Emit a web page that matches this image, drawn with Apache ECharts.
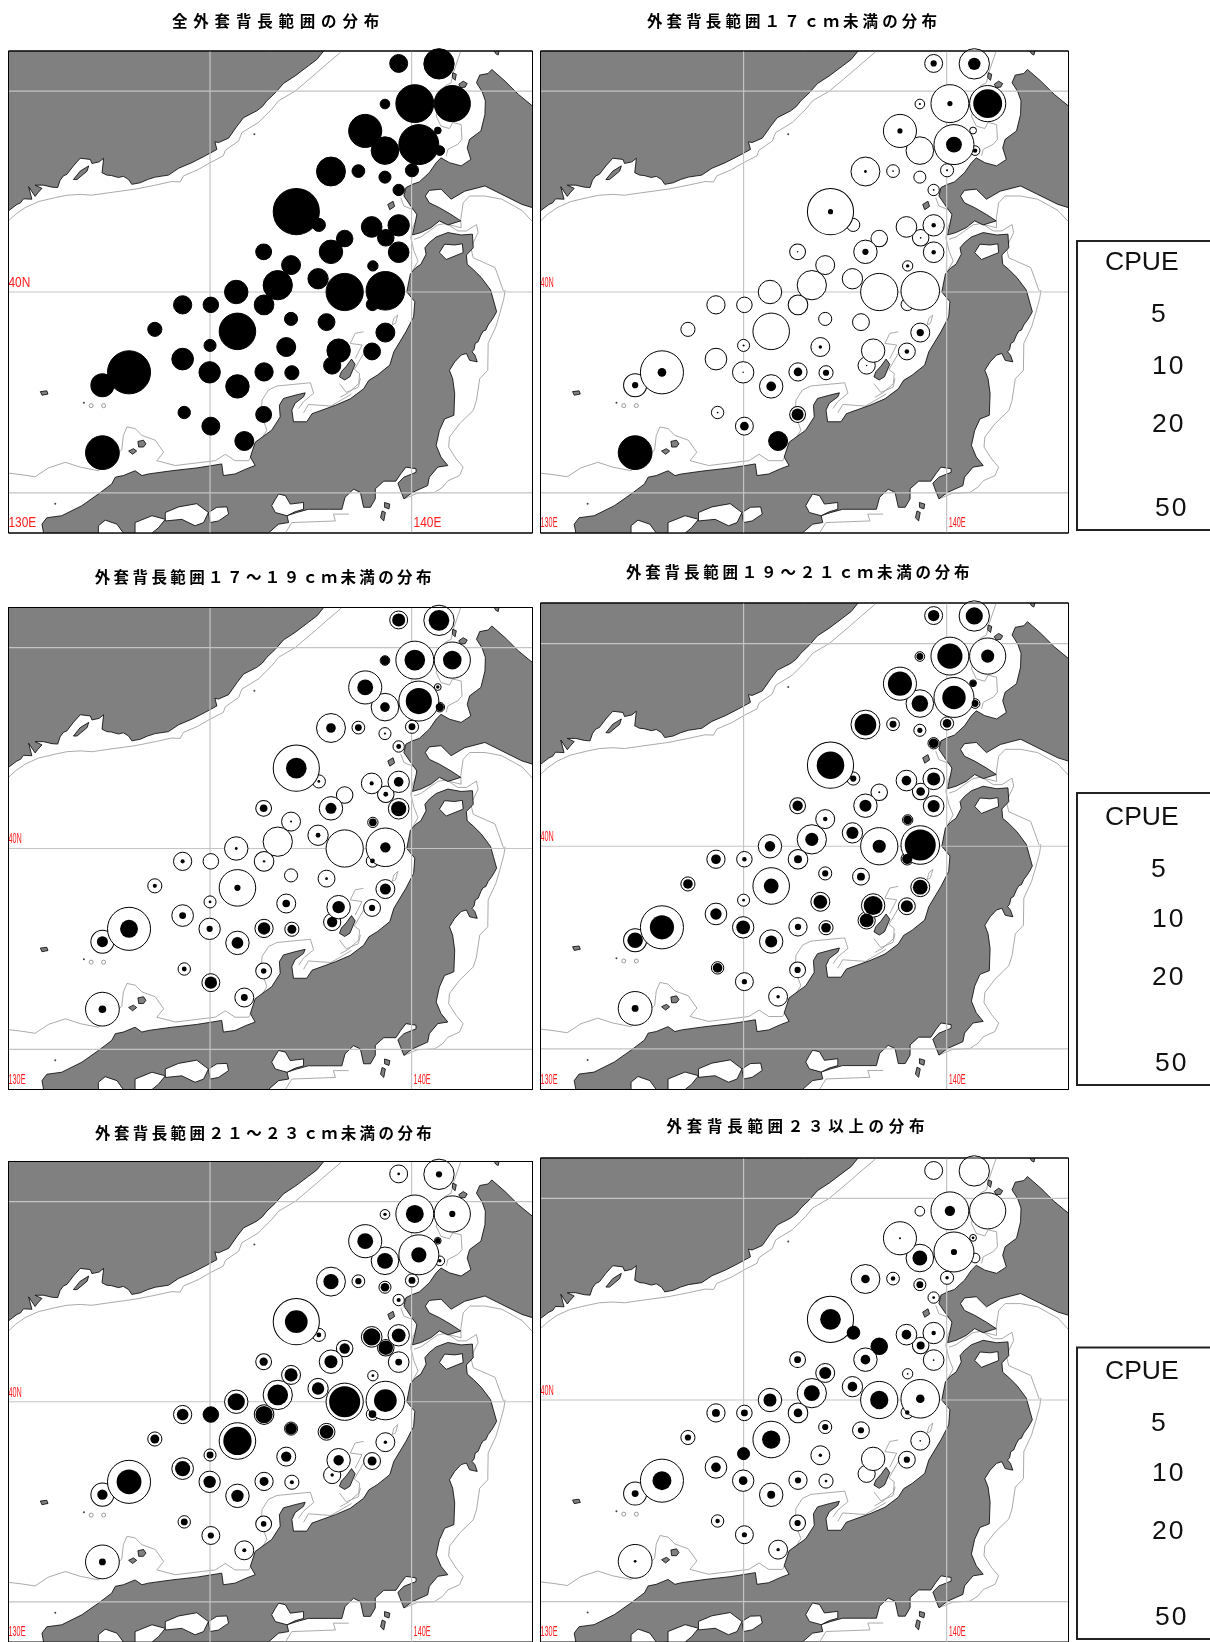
<!DOCTYPE html>
<html><head><meta charset="utf-8">
<style>html,body{margin:0;padding:0;background:#fff;overflow:hidden}#c{width:1210px;height:1642px}</style>
<script src="https://cdn.jsdelivr.net/npm/echarts@6/dist/echarts.min.js"></script>
</head><body><div id="c"></div>
<script>
// ---------- data ----------
const titles = ['全外套背長範囲の分布','外套背長範囲１７ｃｍ未満の分布','外套背長範囲１７～１９ｃｍ未満の分布','外套背長範囲１９～２１ｃｍ未満の分布','外套背長範囲２１～２３ｃｍ未満の分布','外套背長範囲２３以上の分布'];
const legendTitle = 'CPUE';
const legendValues = [5,10,20,50];
const gridLons = [135,140];
const gridLats = [35,40,45];
const stationLon = [139.68,140.68,140.08,141.01,139.34,138.85,140.65,139.34,140.18,140.70,138.00,138.68,139.34,140.01,139.68,137.14,137.70,139.01,139.68,139.36,138.34,138.00,139.68,136.33,137.01,139.04,136.68,137.68,135.65,138.34,139.35,139.03,134.32,135.02,136.34,137.01,137.89,133.63,135.68,139.35,135.00,136.89,138.19,139.02,134.32,138.03,134.99,136.34,137.03,132.99,132.33,135.68,134.36,136.33,135.02,135.85,132.33];
const stationLat = [45.69,45.68,44.69,44.69,44.68,44.01,44.02,43.52,43.67,43.52,43.00,43.01,42.86,43.03,42.54,42.00,41.67,41.62,41.66,41.35,41.33,41.00,40.99,41.00,40.67,40.65,40.17,40.33,40.00,40.00,40.03,39.69,39.68,39.68,39.68,39.33,39.25,39.07,39.02,38.99,38.67,38.63,38.54,38.52,38.33,38.17,38.00,38.01,37.99,38.00,37.68,37.65,37.00,36.95,36.66,36.29,36.00];
const cpueAll = [7.6,21.8,34,31,2.2,25.9,1.1,18,37.8,2.2,19.8,3.85,3.44,4.06,3.06,50.4,4.06,10.1,10.8,6.47,6.47,13,10.1,5.94,8.5,2.53,20.3,9.78,13,32.8,35.2,3.64,7.89,5.69,9.13,4.06,6.74,4.72,31.6,8.5,3.44,8.5,13,6.74,11.1,7.02,10.8,7.89,4.72,43.9,12.6,13,3.64,5.94,7.6,8.5,27];
const cpueUnder17 = [.91,3.64,.63,19.8,.1,.63,0,0,5.94,.47,.18,.07,0,.1,.07,.63,0,0,.47,.07,0,.91,.47,.05,0,.28,0,0,0,0,0,0,0,0,0,0,0,0,0,1.24,.1,.28,0,.47,0,.05,.05,1.76,.91,1.76,.91,2.2,.07,3.44,1.76,8.5,27];
const cpue17to19 = [4.06,10.1,10.1,8.19,1.9,5.94,.28,2.2,16.2,1.62,2.2,1.12,.1,1.12,.55,10.1,.18,.4,2.2,.55,0,2.88,5.44,1.36,.1,1.36,0,.55,.18,0,2.53,.55,.4,0,.14,0,.18,.4,.91,2.88,.18,1.36,3.64,.91,1.12,2.53,.91,3.64,1.9,7.6,2.88,3.25,.55,.72,3.64,1.12,1.36];
const cpue19to21 = [3.06,7.02,15,4.06,1.12,13.8,.91,6.47,13,1.12,11.1,1.12,.63,1.76,2.2,18,.91,2.2,4.06,1.76,.1,3.44,3.44,2.53,.47,1.76,4.06,3.44,2.53,4.06,22.8,2.53,2.2,.47,1.49,.91,1.49,2.2,5.19,5.19,.18,4.49,8.5,3.44,3.06,4.49,4.49,.91,2.2,13.8,5.69,3.44,2.2,.91,.63,.28,1.12];
const cpue21to23 = [.18,.91,7.6,.91,.28,5.94,.72,5.94,5.44,.28,5.44,.91,1.76,1.12,.4,12.2,.55,7.02,4.49,4.96,2.53,4.06,1.12,1.62,4.06,.18,10.1,3.64,7.02,22.8,12.2,1.36,3.25,5.69,7.02,3.25,4.49,1.9,18.9,.28,1.12,2.53,2.53,1.9,5.44,.28,3.64,1.9,.4,14.6,2.53,3.64,1.12,.72,.91,.4,1.12];
const cpueOver23 = [0,0,2.53,0,0,.1,.18,5.19,.91,0,1.76,.47,1.12,.28,.18,10.1,4.06,2.2,.47,1.49,6.47,2.2,.07,1.12,3.44,.07,5.94,2.2,4.06,7.89,1.76,.47,1.49,1.12,1.76,.91,.91,.91,7.89,.07,3.44,.28,0,.91,2.2,0,1.76,.91,.18,8.5,1.12,1.49,.47,.91,.63,.28,.18];

const coastAsia = [[130,42.02],[130.21,42.18],[130.3,42.22],[130.37,42.32],[130.58,42.31],[130.5,42.62],[130.66,42.38],[130.73,42.47],[130.83,42.58],[130.66,42.66],[130.87,42.66],[131.08,42.61],[131.22,42.6],[131.28,42.78],[131.36,42.89],[131.45,42.93],[131.61,43.14],[131.78,43.33],[132.03,43.3],[132.07,43.2],[132.25,43.24],[132.36,43.33],[132.32,42.97],[132.44,42.91],[132.55,42.9],[132.73,42.85],[132.85,42.88],[132.98,42.8],[133.06,42.68],[133.27,42.72],[133.45,42.8],[133.64,42.86],[133.97,42.91],[134.22,43.08],[134.55,43.22],[134.88,43.39],[135.17,43.55],[135.12,43.74],[135.21,43.72],[135.46,43.83],[135.67,44.13],[135.83,44.34],[136.16,44.51],[136.3,44.62],[136.41,44.76],[136.62,44.96],[136.82,45.19],[137.11,45.38],[137.44,45.63],[137.65,45.79],[137.82,46],[130,46]];
const islandKorea = [[131.61,42.8],[131.78,43.01],[131.99,43.14],[131.95,43.01],[131.7,42.8]];
const coastHokkaido = [[143,44.63],[142.65,44.92],[142.32,45.25],[141.99,45.54],[141.9,45.44],[141.69,45.4],[141.61,45.21],[141.75,44.99],[141.83,44.76],[141.82,44.42],[141.72,44.01],[141.44,43.8],[141.38,43.59],[141.47,43.3],[141.23,43.14],[140.94,43.22],[140.73,43.34],[140.61,43.22],[140.44,42.97],[140.19,42.74],[140.02,42.68],[139.86,42.6],[139.81,42.39],[139.98,42.14],[140.13,41.93],[140.08,41.68],[140.02,41.42],[140.23,41.48],[140.48,41.6],[140.69,41.77],[140.9,41.67],[141.22,41.77],[140.98,41.93],[140.69,42.1],[140.44,42.22],[140.34,42.39],[140.44,42.53],[140.73,42.56],[140.98,42.31],[141.32,42.51],[141.82,42.64],[142.24,42.43],[142.74,42.18],[143,42.1]];
const coastHonshu = [[130.87,34],[130.83,34.22],[130.95,34.38],[131.32,34.43],[131.82,34.68],[132.23,34.97],[132.56,35.22],[132.65,35.39],[132.85,35.43],[133.14,35.55],[133.31,35.43],[133.47,35.47],[134.05,35.55],[134.67,35.62],[135.05,35.68],[135.29,35.72],[135.33,35.43],[135.62,35.47],[135.91,35.6],[136.12,35.68],[136,35.89],[136.12,36.26],[136.53,36.56],[136.74,36.89],[136.72,37.18],[136.82,37.35],[137.11,37.43],[137.36,37.49],[137.32,37.39],[137.11,37.23],[137.03,37.06],[137.07,36.77],[137.4,36.77],[137.53,36.97],[138.11,37.18],[138.48,37.34],[138.81,37.59],[138.94,37.8],[139.15,37.93],[139.46,38.18],[139.56,38.51],[139.86,39.01],[140.05,39.38],[140.08,39.76],[139.88,40.0],[139.97,40.45],[140.1,40.6],[140.23,40.69],[140.36,40.94],[140.33,41.1],[140.44,41.23],[140.61,41.37],[140.9,41.48],[141.23,41.42],[141.51,41.44],[141.53,41.1],[141.36,40.92],[141.38,40.69],[141.53,40.56],[141.73,40.36],[141.96,40.05],[142.03,39.8],[142.11,39.51],[142.05,39.40],[141.99,39.3],[141.9,39.18],[141.84,39.05],[141.78,39.03],[141.72,38.93],[141.65,38.76],[141.58,38.72],[141.55,38.57],[141.5,38.51],[141.57,38.43],[141.63,38.26],[141.53,38.28],[141.44,38.3],[141.36,38.47],[141.23,38.43],[141.07,38.26],[140.94,38.05],[141.02,37.84],[141.07,37.47],[141.05,36.93],[140.82,36.84],[140.69,36.55],[140.61,36.18],[140.73,35.89],[140.9,35.68],[140.65,35.64],[140.44,35.39],[140.4,35.18],[140.02,35.01],[139.81,34.85],[139.73,35.05],[139.66,35.24],[139.81,35.39],[140.11,35.51],[140.11,35.6],[139.86,35.64],[139.73,35.47],[139.61,35.29],[139.31,35.29],[139.1,35.1],[139.1,34.85],[138.98,34.64],[138.81,34.64],[138.73,35.01],[138.56,35.09],[138.35,34.89],[138.27,34.59],[137.94,34.59],[137.44,34.59],[137.15,34.51],[136.91,34.43],[136.95,34.26],[136.7,34.22],[136.45,34]];
const islandSado = [[138.51,38.33],[138.6,38.2],[138.47,37.89],[138.34,37.81],[138.21,37.89],[138.26,38.02],[138.38,38.15]];
const islandOkushiri = [[139.41,42.18],[139.54,42.26],[139.58,42.13],[139.46,42.05]];
const islandRishiri = [[141.17,45.17],[141.28,45.25],[141.38,45.19],[141.33,45.1],[141.22,45.09]];
const islandRebun = [[141.02,45.46],[141.11,45.42],[141.08,45.27],[141.01,45.34]];
const islandTop = [[142.05,46],[142.17,46],[142.15,45.9],[142.09,45.93]];
const islandOki = [[133.21,36.28],[133.35,36.31],[133.41,36.22],[133.35,36.14],[133.23,36.14]];
const islandOki2 = [[132.98,36.04],[133.1,36.1],[133.18,36.04],[133.08,35.96]];
const islandUlleung = [[130.79,37.52],[130.95,37.54],[130.98,37.46],[130.83,37.43]];
const islandSouth1 = [[139.33,34.76],[139.46,34.72],[139.44,34.6],[139.33,34.64]];
const islandSouth2 = [[139.27,34.55],[139.35,34.51],[139.31,34.3],[139.23,34.38]];
const seaMutsu = [[140.82,41.19],[140.69,40.98],[140.86,40.81],[141.28,40.98],[141.26,41.2],[141.07,41.17]];
const seaIse = [[136.7,34.97],[136.87,34.93],[136.99,34.72],[137.32,34.76],[137.32,34.59],[137.11,34.53],[136.91,34.43],[136.62,34.51],[136.53,34.68],[136.62,34.84]];
const seaOsaka = [[134.96,34.51],[135.17,34.64],[135.42,34.65],[135.46,34.47],[135.21,34.3],[135,34.26]];
const seaSeto1 = [[133.89,34.51],[134.22,34.65],[134.67,34.73],[134.96,34.51],[134.84,34.26],[134.63,34.18],[134.3,34.34],[133.89,34.3]];
const seaSeto2 = [[133.14,34.26],[133.56,34.43],[133.89,34.34],[133.72,34.13],[133.56,34],[133.14,34]];
const seaSeto3 = [[132.23,34.18],[132.4,34.32],[132.69,34.22],[132.85,34],[132.23,34]];
const isoAsia = [[130,41.77],[130.17,41.93],[130.41,42.1],[130.74,42.25],[131.16,42.35],[131.45,42.41],[131.78,42.43],[132.07,42.41],[132.48,42.47],[133.14,42.56],[133.64,42.66],[134.05,42.75],[134.26,42.74],[134.34,42.89],[134.71,43.05],[135,43.22],[135.33,43.39],[135.38,43.53],[135.71,43.76],[135.79,43.97],[136.2,44.22],[136.53,44.55],[136.7,44.76],[137.11,45],[137.65,45.46],[137.9,45.68],[138.23,45.96],[138.25,46]];
const isoSouthwest = [[130,35.49],[130.33,35.45],[130.66,35.4],[130.99,35.62],[131.41,35.76],[131.78,35.64],[132.23,35.55],[132.81,36.07],[132.85,36.43],[132.94,36.64],[133.14,36.6],[133.31,36.43],[133.64,36.31],[133.85,36.01],[133.68,35.8],[134.14,35.68],[134.63,35.74],[135.13,35.8],[135.38,35.96],[135.62,35.8],[135.96,35.8],[136.2,36.22],[136.41,36.56],[136.27,36.97],[136.29,37.31],[136.45,37.56],[136.66,37.66],[137.49,37.74],[137.57,37.48],[137.32,37.27],[137.2,37.1]];
const isoSado = [[138.23,37.38],[138.43,37.49],[138.69,37.72],[138.71,37.97],[138.58,38.07],[138.81,38.47]];
const isoSado2 = [[138.21,37.72],[138.38,37.5],[138.68,37.63],[138.73,37.85]];
const isoToyama = [[138.51,37.46],[138,37.16],[137.44,37.2],[137.32,36.99]];
const isoFrag = [[138.6,38.34],[138.77,38.68],[138.48,38.72],[138.6,38.97],[138.81,39.01]];
const isoLoop = [[139.66,39.43],[139.6,39.22],[139.52,39.18],[139.56,39.34],[139.66,39.43]];
const isoPacific = [[142.28,40.02],[142.07,40.61],[141.53,40.85],[141.47,41.1],[141.65,41.48],[141.61,41.68],[141.36,41.52],[141.15,41.52],[140.9,41.68]];
const isoHonshuEast = [[142.32,40.05],[142.29,39.84],[142.19,39.47],[142.09,39.13],[141.9,38.72],[141.89,38.05],[141.69,37.84],[141.61,37.3],[141.53,37.05],[141.19,36.72],[140.94,36.39],[140.92,36.14],[141.11,35.84],[141.28,35.64],[141.19,35.43],[140.9,35.3],[140.77,35.14],[140.57,35.01],[140.15,34.99],[139.81,34.85]];
const isoHokkaidoSouth = [[143,41.75],[142.74,42.03],[142.24,42.31],[141.82,42.39],[141.44,42.39],[141.28,42.22],[141.22,41.81],[141.23,41.6],[140.82,41.7],[140.65,41.67],[140.23,41.37],[140.06,41.31]];
const isoTsugaruWest = [[139.73,42.35],[139.81,42.14],[140.11,42.02],[140.15,41.85],[140.02,41.6],[139.98,41.35],[140.06,41.02],[140.16,40.77],[140.02,40.52],[140,40.27],[139.9,40.02]];
const isoHokkaidoWest = [[141.22,46],[141.05,45.5],[140.98,45.21],[140.83,45.13],[140.61,44.38],[140.73,44.13],[140.94,44.07],[141.02,44.22],[141.23,44.17],[141.25,43.8],[141.15,43.68],[140.9,43.55],[140.86,43.39]];
const isoHonshuSouth = [[138.44,34.47],[138.06,34.47],[138.11,34.3],[137.03,34.26],[136.87,34]];
const rockRings = [[132.05,37.17],[132.36,37.17]];
const rockDots = [[131.87,37.24],[131.16,34.73],[136.10,43.93]];
const mapLabels = [[130.0,34.06,'130E'],[140.05,34.06,'140E'],[130.0,40.05,'40N']];

// ---------- layout / style ----------
const panels = [
 {l:8.5,  t:51,    w:524,h:482, values:cpueAll,    labelScale:.85, tx:172, ty:21.5, ls:5.8},
 {l:540.5,t:51,    w:528,h:482, values:cpueUnder17,labelScale:.52, tx:647, ty:21.5, ls:4.1},
 {l:8.5,  t:607.5, w:524,h:482, values:cpue17to19, labelScale:.52, tx:94.7,ty:577,  ls:3.4},
 {l:540.5,t:603,   w:528,h:486.5,values:cpue19to21,labelScale:.52, tx:626, ty:572,  ls:3.8},
 {l:8.5,  t:1161.5,w:524,h:482, values:cpue21to23, labelScale:.52, tx:95,  ty:1133, ls:3.4},
 {l:540.5,t:1158,  w:528,h:485, values:cpueOver23, labelScale:.52, tx:666.6,ty:1126,ls:4.7}
];
const legends = [
 {t:241,  b:530,  ys:[263,315,367,425,509]},
 {t:793,  b:1085, ys:[818,870,920,978,1064]},
 {t:1347.5,b:1639,ys:[1372,1424,1473.6,1532,1618]}
];
const legendX = [1105,1151,1152,1152,1155];
const land = [coastAsia,islandKorea,coastHokkaido,coastHonshu,islandSado,islandOkushiri,islandRishiri,islandRebun,islandTop,islandOki,islandOki2,islandUlleung,islandSouth1,islandSouth2];
const seas = [seaMutsu,seaIse,seaOsaka,seaSeto1,seaSeto2,seaSeto3];
const isobaths = [isoAsia,isoSouthwest,isoSado,isoSado2,isoToyama,isoFrag,isoLoop,isoPacific,isoHonshuEast,isoHokkaidoSouth,isoTsugaruWest,isoHokkaidoWest,isoHonshuSouth];
const sizeOf = v => 6.5 * Math.sqrt(v);

// letter spacing for the widely set texts
const spacingByText = {'10':'2px','20':'2px','50':'2px'};
titles.forEach((t,i)=>{spacingByText[t]=panels[i].ls+'px'});
const nativeFill = CanvasRenderingContext2D.prototype.fillText;
CanvasRenderingContext2D.prototype.fillText = function(text,x,y,m){
  const s = spacingByText[text];
  if(s){this.letterSpacing=s}
  const r = m===undefined?nativeFill.call(this,text,x,y):nativeFill.call(this,text,x,y,m);
  if(s){this.letterSpacing='0px'}
  return r;
};

function polySeries(i,list,fill,stroke,lw,z){
  return {type:'custom',xAxisIndex:i,yAxisIndex:i,z,silent:true,clip:true,animation:false,
    data:list.map(p=>p[0]),encode:{x:0,y:1},
    renderItem:(params,api)=>{
      const pts=list[params.dataIndex].map(p=>api.coord(p));
      return fill?{type:'polygon',shape:{points:pts},style:{fill,stroke,lineWidth:lw}}
                 :{type:'polyline',shape:{points:pts},style:{fill:null,stroke,lineWidth:lw}};
    }};
}
const gridSegs=[...gridLons.map(x=>[[x,34],[x,46]]),...gridLats.map(y=>[[130,y],[143,y]])];

const option={animation:false,backgroundColor:'#fff',title:[],grid:[],xAxis:[],yAxis:[],series:[],graphic:[]};
const order = cpueAll.map((_,k)=>k).sort((a,b)=>cpueAll[a]-cpueAll[b]);
panels.forEach((p,i)=>{
  option.title.push({text:titles[i],left:p.tx,top:p.ty-10,padding:0,
    textStyle:{fontFamily:'"Noto Sans CJK JP"',fontSize:15.5,fontWeight:'bold',color:'#000',lineHeight:20}});
  option.grid.push({left:p.l,top:p.t,width:p.w,height:p.h,show:true,backgroundColor:'#fff',borderColor:'#000',borderWidth:1,containLabel:false});
  option.xAxis.push({type:'value',gridIndex:i,min:130,max:143,show:false,splitLine:{show:false}});
  option.yAxis.push({type:'value',gridIndex:i,min:34,max:46,show:false,splitLine:{show:false}});
  option.series.push(polySeries(i,isobaths,null,'#a0a0a0',.9,2));
  option.series.push(polySeries(i,land,'#808080','#000',.8,3));
  option.series.push(polySeries(i,seas,'#fff','#000',.8,4));
  option.series.push(polySeries(i,gridSegs,null,'#c4c4c4',1.2,5));
  option.series.push({type:'scatter',xAxisIndex:i,yAxisIndex:i,z:5,silent:true,symbolSize:4,
    itemStyle:{color:'#fff',borderColor:'#999',borderWidth:1,opacity:1},data:rockRings});
  option.series.push({type:'scatter',xAxisIndex:i,yAxisIndex:i,z:5,silent:true,symbolSize:2,
    itemStyle:{color:'#444',opacity:1},data:rockDots});
  option.series.push({type:'custom',xAxisIndex:i,yAxisIndex:i,z:6,silent:true,clip:true,
    data:mapLabels,encode:{x:0,y:1},
    renderItem:(params,api)=>{
      const c=api.coord([api.value(0),api.value(1)]);
      return {type:'text',x:c[0],y:c[1],scaleX:p.labelScale,style:{text:mapLabels[params.dataIndex][2],fill:'#ff2020',font:'14px "Liberation Sans"',align:'left',verticalAlign:'bottom'}};
    }});
  option.series.push({type:'scatter',xAxisIndex:i,yAxisIndex:i,z:7,silent:true,clip:true,
    symbolSize:d=>sizeOf(d[2]),itemStyle:{color:'#fff',borderColor:'#000',borderWidth:1,opacity:1},
    data:order.map(k=>[stationLon[k],stationLat[k],cpueAll[k]])});
  option.series.push({type:'scatter',xAxisIndex:i,yAxisIndex:i,z:8,silent:true,clip:true,
    symbolSize:d=>sizeOf(d[2]),itemStyle:{color:'#000',opacity:1},
    data:p.values.map((v,k)=>[stationLon[k],stationLat[k],v]).filter(d=>d[2]>0)});
  option.graphic.push({type:'rect',silent:true,z:100,shape:{x:p.l,y:p.t,width:p.w,height:p.h},
    style:{fill:null,stroke:'#000',lineWidth:1}});
});
legends.forEach(b=>{
  option.graphic.push({type:'rect',silent:true,z:100,shape:{x:1077,y:b.t,width:160,height:b.b-b.t},
    style:{fill:'#fff',stroke:'#222',lineWidth:2}});
  [legendTitle,...legendValues].forEach((s,j)=>{
    option.graphic.push({type:'text',silent:true,z:101,x:legendX[j],y:b.ys[j],
      style:{text:String(s),fill:'#111',font:'26.5px "Liberation Sans"',align:'left',verticalAlign:'middle'}});
  });
});
const chart=echarts.init(document.getElementById('c'),null,{renderer:'canvas',width:1210,height:1642});
chart.setOption(option);
</script></body></html>
